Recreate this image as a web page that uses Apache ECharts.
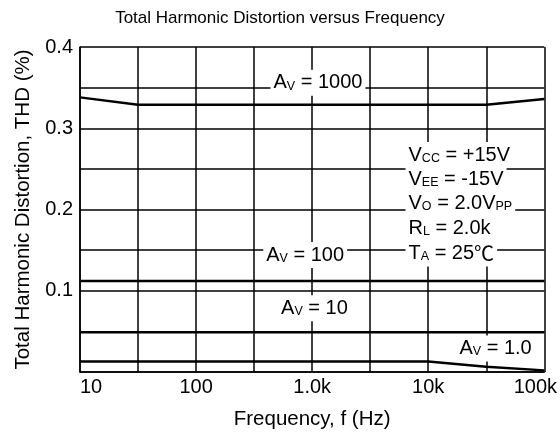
<!DOCTYPE html>
<html>
<head>
<meta charset="utf-8">
<script src="https://cdn.jsdelivr.net/npm/echarts@6/dist/echarts.min.js"></script>
<style>
  html, body { margin: 0; padding: 0; background: #fff; }
  #thd-chart { width: 560px; height: 442px; }
</style>
</head>
<body>
<div id="thd-chart"></div>
<script>
// frequency (Hz) / THD (%)
const av1000Freq = [10, 31.6, 31600, 100000];
const av1000Thd = [0.338, 0.329, 0.329, 0.336];
const av100Freq = [10, 100000];
const av100Thd = [0.112, 0.112];
const av10Freq = [10, 100000];
const av10Thd = [0.049, 0.049];
const av1Freq = [10, 10000, 31600, 100000];
const av1Thd = [0.013, 0.013, 0.0065, 0.002];

// x axis runs in log10(f), labels per decade
const xTickValues = [1, 2, 3, 4, 5];
const xTickLabels = ['10', '100', '1.0k', '10k', '100k'];
const yTickValues = [0.1, 0.2, 0.3, 0.4];
const yTickLabels = ['0.1', '0.2', '0.3', '0.4'];

const FONT = 'Liberation Sans, Arial, sans-serif';

function toPoints(freq, thd) {
  return freq.map((f, i) => [Math.log10(f), thd[i]]);
}

const rich = {
  n: { fontSize: 20, color: '#000', fontFamily: FONT },
  s: { fontSize: 12.5, color: '#000', fontFamily: FONT, verticalAlign: 'bottom' },
  c: { fontSize: 20, color: '#000', fontFamily: 'Noto Sans CJK SC' }
};

function note(coord, text, left) {
  return {
    coord: coord,
    symbol: 'rect',
    symbolSize: 1,
    itemStyle: { color: 'transparent' },
    label: {
      show: true,
      position: left ? 'right' : 'inside',
      distance: 0,
      formatter: text,
      rich: rich,
      backgroundColor: '#fff',
      padding: [3, 3, 3, 3]
    }
  };
}

function curve(name, freq, thd, notes) {
  return {
    name: name,
    type: 'line',
    data: toPoints(freq, thd),
    symbol: 'none',
    lineStyle: { color: '#000', width: 2.5 },
    z: 3,
    markPoint: { silent: true, z: 5, data: notes }
  };
}

let myChart = echarts.init(document.getElementById('thd-chart'));

let option = {
  backgroundColor: '#fff',
  animation: false,
  title: {
    text: 'Total Harmonic Distortion versus Frequency',
    left: 'center',
    top: 5,
    textStyle: { fontSize: 17, fontWeight: 'normal', color: '#000', fontFamily: FONT }
  },
  grid: { left: 80, right: 15, top: 47, bottom: 70 },
  xAxis: {
    type: 'value',
    min: 1,
    max: 5,
    interval: 0.5,
    name: 'Frequency, f (Hz)',
    nameLocation: 'middle',
    nameGap: 37,
    nameTextStyle: { fontSize: 20.5, color: '#000', fontFamily: FONT },
    axisLine: { lineStyle: { color: '#000', width: 1.5 } },
    axisTick: { show: false },
    splitLine: { lineStyle: { color: '#000', width: 1.5 } },
    axisLabel: {
      color: '#000',
      fontSize: 20,
      fontFamily: FONT,
      margin: 5,
      alignMinLabel: 'left',
      formatter: function (value) {
        const i = xTickValues.findIndex(v => Math.abs(v - value) < 1e-6);
        if (i < 0) return '';
        if (i === xTickValues.length - 1) return '{r|' + xTickLabels[i] + '}';
        return xTickLabels[i];
      },
      rich: { r: { fontSize: 20, color: '#000', fontFamily: FONT, padding: [0, 18, 0, 0] } }
    }
  },
  yAxis: {
    type: 'value',
    min: 0,
    max: 0.4,
    interval: 0.05,
    name: 'Total Harmonic Distortion, THD (%)',
    nameLocation: 'middle',
    nameGap: 45,
    nameTextStyle: { fontSize: 20.5, color: '#000', fontFamily: FONT },
    axisLine: { show: true, lineStyle: { color: '#000', width: 1.5 } },
    axisTick: { show: false },
    splitLine: { lineStyle: { color: '#000', width: 1.5 } },
    axisLabel: {
      color: '#000',
      fontSize: 20,
      fontFamily: FONT,
      margin: 7,
      formatter: function (value) {
        const i = yTickValues.findIndex(v => Math.abs(v - value) < 1e-6);
        return i < 0 ? '' : yTickLabels[i];
      }
    }
  },
  series: [
    curve('AV1000', av1000Freq, av1000Thd, [
      note([3.05, 0.356], '{n|A}{s|V}{n| = 1000}')
    ]),
    curve('AV100', av100Freq, av100Thd, [
      note([2.94, 0.144], '{n|A}{s|V}{n| = 100}'),
      note([3.80, 0.267], '{n|V}{s|CC}{n| = +15V}', true),
      note([3.80, 0.237], '{n|V}{s|EE}{n| = -15V}', true),
      note([3.80, 0.208], '{n|V}{s|O}{n| = 2.0V}{s|PP}', true),
      note([3.80, 0.177], '{n|R}{s|L}{n| = 2.0k}', true),
      note([3.80, 0.146], '{n|T}{s|A}{n| = 25}{c|℃}', true)
    ]),
    curve('AV10', av10Freq, av10Thd, [
      note([3.02, 0.0785], '{n|A}{s|V}{n| = 10}')
    ]),
    curve('AV1', av1Freq, av1Thd, [
      note([4.58, 0.029], '{n|A}{s|V}{n| = 1.0}')
    ])
  ]
};

myChart.setOption(option);
</script>
</body>
</html>
